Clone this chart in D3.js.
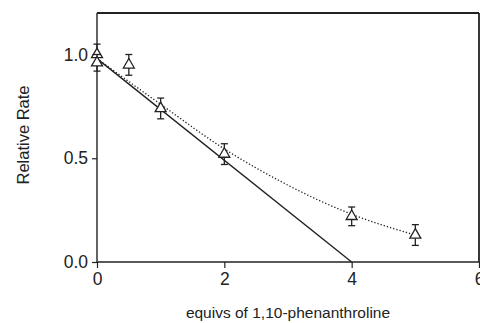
<!DOCTYPE html>
<html>
<head>
<meta charset="utf-8">
<script src="https://cdn.jsdelivr.net/npm/d3@7"></script>
<style>
  body { margin: 0; background: #fff; }
  text { font-family: "Liberation Sans", Arial, sans-serif; fill: #222; }
</style>
</head>
<body>
<div id="chart"></div>
<script>
// measured points
var equivs = [0, 0, 0.5, 1, 2, 4, 5];
var rate   = [1.00, 0.96, 0.95, 0.74, 0.52, 0.22, 0.13];
var errs   = [0.05, 0.04, 0.05, 0.05, 0.05, 0.045, 0.05];

// solid line (ideal stoichiometric)
var lineX = [0, 4];
var lineY = [0.98, 0];

// dotted fit curve
var fitX = [0, 1, 2, 3, 4, 5];
var fitY = [0.98, 0.76, 0.545, 0.37, 0.23, 0.13];

var xTicks = [0, 2, 4, 6];
var yTicks = [0.0, 0.5, 1.0];

var margin = {top: 13, right: 1, bottom: 61, left: 97},
    width = 480 - margin.left - margin.right,
    height = 323 - margin.top - margin.bottom;

var svg = d3.select("#chart")
  .append("svg")
    .attr("width", 480)
    .attr("height", 323)
  .append("g")
    .attr("transform", "translate(" + margin.left + "," + margin.top + ")");

var x = d3.scaleLinear().domain([0, 6]).range([0, width]);
var y = d3.scaleLinear().domain([0, 1.2]).range([height, 0]);

// frame top and right
svg.append("line")
  .attr("x1", 0).attr("x2", width).attr("y1", 0).attr("y2", 0)
  .attr("stroke", "#222").attr("stroke-width", 1.8);
svg.append("line")
  .attr("x1", width).attr("x2", width).attr("y1", 0).attr("y2", height)
  .attr("stroke", "#222").attr("stroke-width", 1.8);

// axes
var xAxis = svg.append("g")
  .attr("transform", "translate(0," + height + ")")
  .call(d3.axisBottom(x).tickValues(xTicks).tickFormat(d3.format("d")).tickSize(6).tickPadding(5));
var yAxis = svg.append("g")
  .call(d3.axisLeft(y).tickValues(yTicks).tickFormat(d3.format(".1f")).tickSize(5).tickPadding(4));
[xAxis, yAxis].forEach(function(a) {
  a.select(".domain").attr("stroke", "#222").attr("stroke-width", 1.4);
  a.selectAll(".tick line").attr("stroke", "#222").attr("stroke-width", 1.2);
  a.selectAll("text").style("font-size", "17.5px").attr("fill", "#222");
});
xAxis.select(".domain").attr("d", "M0,0H" + width);
yAxis.select(".domain").attr("d", "M0,0V" + height);

// axis titles
svg.append("text")
  .attr("x", width / 2)
  .attr("y", height + 56)
  .attr("text-anchor", "middle")
  .style("font-size", "15.5px")
  .text("equivs of 1,10-phenanthroline");
svg.append("text")
  .attr("transform", "rotate(-90)")
  .attr("x", -122)
  .attr("y", -68)
  .attr("text-anchor", "middle")
  .style("font-size", "16.5px")
  .text("Relative Rate");

// solid line
svg.append("path")
  .datum(d3.zip(lineX, lineY))
  .attr("fill", "none")
  .attr("stroke", "#222")
  .attr("stroke-width", 1.4)
  .attr("d", d3.line().x(function(d) { return x(d[0]); }).y(function(d) { return y(d[1]); }));

// dotted curve
svg.append("path")
  .datum(d3.zip(fitX, fitY))
  .attr("fill", "none")
  .attr("stroke", "#222")
  .attr("stroke-width", 1.3)
  .attr("stroke-dasharray", "1.3,2")
  .attr("d", d3.line().curve(d3.curveMonotoneX)
    .x(function(d) { return x(d[0]); }).y(function(d) { return y(d[1]); }));

// error bars and triangles
var pts = d3.range(equivs.length).map(function(i) {
  return {x: equivs[i], y: rate[i], e: errs[i]};
});
var g = svg.selectAll("g.pt")
  .data(pts)
  .enter()
  .append("g")
    .attr("class", "pt")
    .attr("stroke", "#222")
    .attr("stroke-width", 1.3)
    .attr("fill", "none");
g.append("line")
  .attr("x1", function(d) { return x(d.x); })
  .attr("x2", function(d) { return x(d.x); })
  .attr("y1", function(d) { return y(d.y + d.e); })
  .attr("y2", function(d) { return y(d.y - d.e); });
g.append("line")
  .attr("x1", function(d) { return x(d.x) - 3.5; })
  .attr("x2", function(d) { return x(d.x) + 3.5; })
  .attr("y1", function(d) { return y(d.y + d.e); })
  .attr("y2", function(d) { return y(d.y + d.e); });
g.append("line")
  .attr("x1", function(d) { return x(d.x) - 3.5; })
  .attr("x2", function(d) { return x(d.x) + 3.5; })
  .attr("y1", function(d) { return y(d.y - d.e); })
  .attr("y2", function(d) { return y(d.y - d.e); });
g.append("path")
  .attr("fill", "#fff")
  .attr("transform", function(d) { return "translate(" + x(d.x) + "," + y(d.y) + ")"; })
  .attr("d", d3.symbol().type(d3.symbolTriangle).size(52));
</script>
</body>
</html>
